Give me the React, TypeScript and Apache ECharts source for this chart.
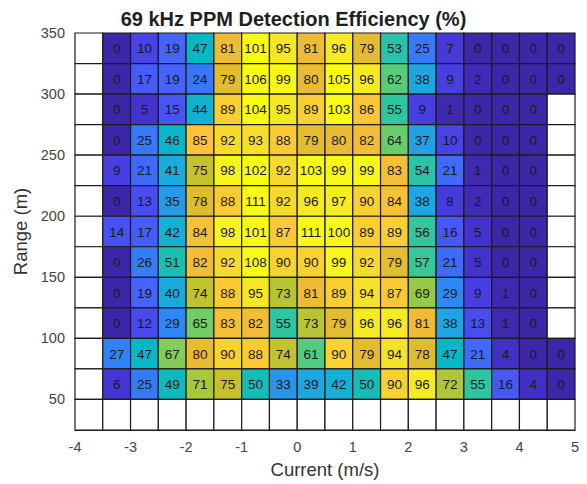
import React, { useEffect, useRef } from 'react';
import * as echarts from 'echarts';

// Bin centres (current in m/s, range in m); the first column and last row are empty bins
const currentBins = [-3.75, -3.25, -2.75, -2.25, -1.75, -1.25, -0.75, -0.25, 0.25, 0.75, 1.25, 1.75, 2.25, 2.75, 3.25, 3.75, 4.25, 4.75];
const rangeBins = [337.5, 312.5, 287.5, 262.5, 237.5, 212.5, 187.5, 162.5, 137.5, 112.5, 87.5, 62.5, 37.5];
const BIN_W = 0.5;
const BIN_H = 25;

// Detection efficiency (%), one row per range bin (top to bottom), null = no data
const row337 = [null, 0, 10, 19, 47, 81, 101, 95, 81, 96, 79, 53, 25, 7, 0, 0, 0, 0];
const row312 = [null, 0, 17, 19, 24, 79, 106, 99, 80, 105, 96, 62, 38, 9, 2, 0, 0, 0];
const row287 = [null, 0, 5, 15, 44, 89, 104, 95, 89, 103, 86, 55, 9, 1, 0, 0, 0, null];
const row262 = [null, 0, 25, 46, 85, 92, 93, 88, 79, 80, 82, 64, 37, 10, 0, 0, 0, null];
const row237 = [null, 9, 21, 41, 75, 98, 102, 92, 103, 99, 99, 83, 54, 21, 1, 0, 0, null];
const row212 = [null, 0, 13, 35, 78, 88, 111, 92, 96, 97, 90, 84, 38, 8, 2, 0, 0, null];
const row187 = [null, 14, 17, 42, 84, 98, 101, 87, 111, 100, 89, 89, 56, 16, 5, 0, 0, null];
const row162 = [null, 0, 26, 51, 82, 92, 108, 90, 90, 99, 92, 79, 57, 21, 5, 0, 0, null];
const row137 = [null, 0, 19, 40, 74, 88, 95, 73, 81, 89, 94, 87, 69, 29, 9, 1, 0, null];
const row112 = [null, 0, 12, 29, 65, 83, 82, 55, 73, 79, 96, 96, 81, 38, 13, 1, 0, null];
const row87 = [null, 27, 47, 67, 80, 90, 88, 74, 61, 90, 79, 94, 78, 47, 21, 4, 0, 0];
const row62 = [null, 6, 25, 49, 71, 75, 50, 33, 39, 42, 50, 90, 96, 72, 55, 16, 4, 0];
const row37 = [null, null, null, null, null, null, null, null, null, null, null, null, null, null, null, null, null, null];
const efficiency = [row337, row312, row287, row262, row237, row212, row187, row162, row137, row112, row87, row62, row37];

const parula = [
  '#3e26a8', '#4332cb', '#4741e5', '#4852f4', '#4563fd', '#3875fe', '#2e87f7', '#2796eb',
  '#20a5e3', '#12b1d6', '#02bac3', '#24c1ae', '#37c897', '#57cc7a', '#80cc59', '#abc739',
  '#d1bf27', '#efba36', '#fec338', '#fad42f', '#f5e725', '#f9fb15',
];

const FONT = '"Liberation Sans", Arial, Helvetica, sans-serif';

export default function App() {
  const ref = useRef<HTMLDivElement>(null);
  useEffect(() => {
    if (!ref.current) return;
    const chart = echarts.init(ref.current, null, { renderer: 'svg' });
    const data: any[] = [];
    rangeBins.forEach((r, ri) => {
      currentBins.forEach((c, ci) => {
        const v = efficiency[ri][ci];
        data.push([c, r, v === null ? '-' : v]);
      });
    });
    chart.setOption({
      animation: false,
      backgroundColor: '#fff',
      title: {
        text: '69 kHz PPM Detection Efficiency (%)',
        left: 'center',
        top: 4,
        textStyle: { fontFamily: FONT, fontSize: 20, fontWeight: 'bold', color: '#1f1f1f' },
      },
      grid: { left: 75, right: 12, top: 33, bottom: 54, containLabel: false },
      xAxis: {
        type: 'value',
        min: -4,
        max: 5,
        interval: 1,
        name: 'Current (m/s)',
        nameLocation: 'middle',
        nameGap: 30,
        nameTextStyle: { fontFamily: FONT, fontSize: 18.5, color: '#333' },
        axisLine: { show: true, lineStyle: { color: '#1a1a1a' } },
        axisTick: { show: false },
        splitLine: { show: false },
        axisLabel: { fontFamily: FONT, fontSize: 14.5, color: '#444', margin: 9 },
      },
      yAxis: {
        type: 'value',
        min: 25,
        max: 350,
        interval: 25,
        name: 'Range (m)',
        nameLocation: 'middle',
        nameGap: 42,
        nameTextStyle: { fontFamily: FONT, fontSize: 18.5, color: '#333' },
        axisLine: { show: true, lineStyle: { color: '#1a1a1a' } },
        axisTick: { show: false },
        splitLine: { show: false },
        axisLabel: {
          fontFamily: FONT,
          fontSize: 14.5,
          color: '#444',
          margin: 10,
          formatter: (v: number) => (v % 50 === 0 ? String(v) : ''),
        },
      },
      visualMap: {
        type: 'continuous',
        show: false,
        min: 0,
        max: 100,
        dimension: 2,
        seriesIndex: 0,
        inRange: { color: parula },
      },
      series: [
        {
          type: 'custom',
          data,
          encode: { x: 0, y: 1 },
          renderItem: (params: any, api: any) => {
            const x = api.value(0);
            const y = api.value(1);
            const v = api.value(2);
            const p0 = api.coord([x - BIN_W / 2, y + BIN_H / 2]);
            const p1 = api.coord([x + BIN_W / 2, y - BIN_H / 2]);
            const empty = v === null || v === undefined || isNaN(v);
            const children: any[] = [
              {
                type: 'rect',
                shape: { x: p0[0], y: p0[1], width: p1[0] - p0[0], height: p1[1] - p0[1] },
                style: { fill: empty ? '#ffffff' : api.visual('color'), stroke: '#1c1c1c', lineWidth: 1.2 },
              },
            ];
            if (!empty) {
              children.push({
                type: 'text',
                style: {
                  x: (p0[0] + p1[0]) / 2,
                  y: (p0[1] + p1[1]) / 2 + 0.5,
                  text: String(v),
                  align: 'center',
                  verticalAlign: 'middle',
                  fill: '#1a1a1a',
                  font: `13.5px ${FONT}`,
                },
              });
            }
            return { type: 'group', children };
          },
        },
      ],
    });
    return () => chart.dispose();
  }, []);
  return <div ref={ref} style={{ position: 'fixed', left: 0, top: 0, width: 587, height: 484 }} />;
}
